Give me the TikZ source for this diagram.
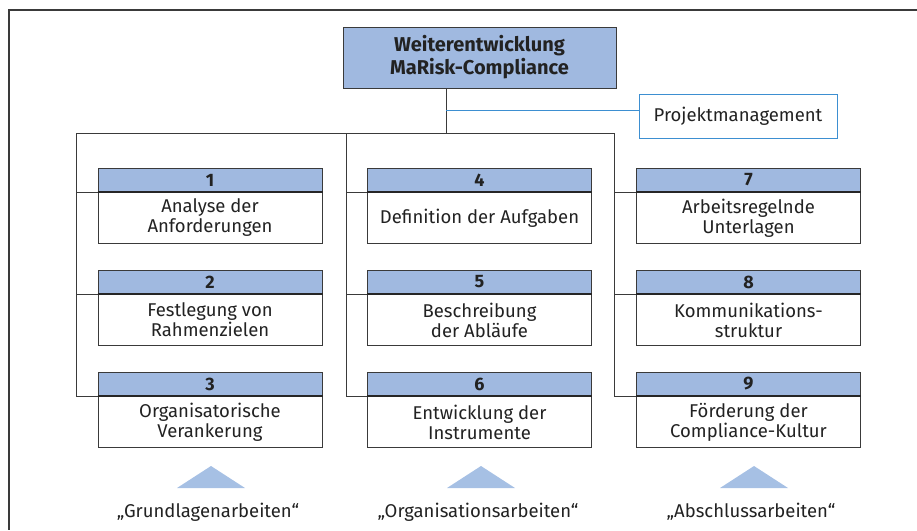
\documentclass[tikz,border=0pt]{standalone}
\usepackage{fontspec}
\setmainfont{Fira Sans}
\usetikzlibrary{positioning}
\definecolor{hdBlue}{HTML}{A0B9E0}
\definecolor{triBlue}{HTML}{A6C0E4}
\definecolor{pmBlue}{HTML}{3D8FD1}
\definecolor{lnGray}{HTML}{3A3A3A}
\definecolor{txGray}{HTML}{222222}
\newcommand{\boxfont}{\fontsize{18.5}{20}\selectfont}
\newcommand{\nrfont}{\fontsize{18}{18}\selectfont\bfseries}

\begin{document}
\begin{tikzpicture}[x=1pt,y=-1pt,
	hd/.style={draw=lnGray, fill=hdBlue, line width=1pt, minimum width=224pt, minimum height=23pt, inner sep=0pt, text=txGray, font=\nrfont},
	task/.style={draw=lnGray, fill=white, line width=1pt, minimum width=224pt, minimum height=51pt, inner sep=0pt, align=center, text=txGray, font=\boxfont},
	conn/.style={draw=lnGray, line width=1pt},
	sep/.style={draw=black!85, line width=1.6pt},
	lbl/.style={text=txGray, font=\boxfont}
	]
	\useasboundingbox (0,0) rectangle (917,530);
	\draw[conn, line width=1.2pt] (917,10) -- (9,10) -- (9,530);
	% Kopf und Projektmanagement
	\node[draw=lnGray, line width=1pt, fill=hdBlue, minimum width=273pt, minimum height=61pt, align=center, text=txGray, font=\fontsize{20}{23}\selectfont\bfseries] (main) at (479.5,57.5) {Weiterentwicklung\\MaRisk-Compliance};
	\node[draw=pmBlue, line width=1pt, minimum width=198pt, minimum height=44pt, text=txGray, font=\boxfont] (pm) at (738,116) {Projektmanagement};
	% Arbeitspakete
	\foreach \cx/\cy/\nr/\desc in {
		210/168/1/Analyse der\\Anforderungen,
		210/270/2/Festlegung von\\Rahmenzielen,
		210/372/3/Organisatorische\\Verankerung,
		479.5/168/4/Definition der Aufgaben,
		479.5/270/5/Beschreibung\\der Abläufe,
		479.5/372/6/Entwicklung der\\Instrumente,
		748.5/168/7/Arbeitsregelnde\\Unterlagen,
		748.5/270/8/Kommunikations-\\struktur,
		748.5/372/9/Förderung der\\Compliance-Kultur
	}{
		\node[hd, anchor=north] (h\nr) at (\cx,\cy) {\nr};
		\node[task, below=0pt of h\nr] (t\nr) {\desc};
		\draw[sep] (t\nr.north west) -- (t\nr.north east);
	}
	% Verbindungen
	\coordinate (hub) at (446,133);
	\coordinate (pmjoin) at (446,110);
	\coordinate (trA) at (76,133);
	\coordinate (trB) at (346,133);
	\coordinate (trC) at (614,133);
	\draw[conn] (main.south -| hub) -- (hub);
	\draw[draw=pmBlue, line width=1pt] (pmjoin) -- (pmjoin -| pm.west);
	\draw[conn] (trA) -- (trC);
	\foreach \tr/\ra/\rb/\rc in {trA/1/2/3, trB/4/5/6, trC/7/8/9}{
		\draw[conn] (\tr) |- (t\rc.north west);
		\draw[conn] (\tr |- t\ra.north west) -- (t\ra.north west);
		\draw[conn] (\tr |- t\rb.north west) -- (t\rb.north west);
	}
	% Phasen
	\foreach \cx/\nm/\phase in {211/grund/Grundlagenarbeiten, 481/orga/Organisationsarbeiten, 754/abschl/Abschlussarbeiten}{
		\fill[triBlue] (\cx-34,488) -- (\cx,466) -- (\cx+34,488) -- cycle;
		\node[lbl] (\nm) at (\cx-3,512) {„\phase“};
	}
\end{tikzpicture}
\end{document}
